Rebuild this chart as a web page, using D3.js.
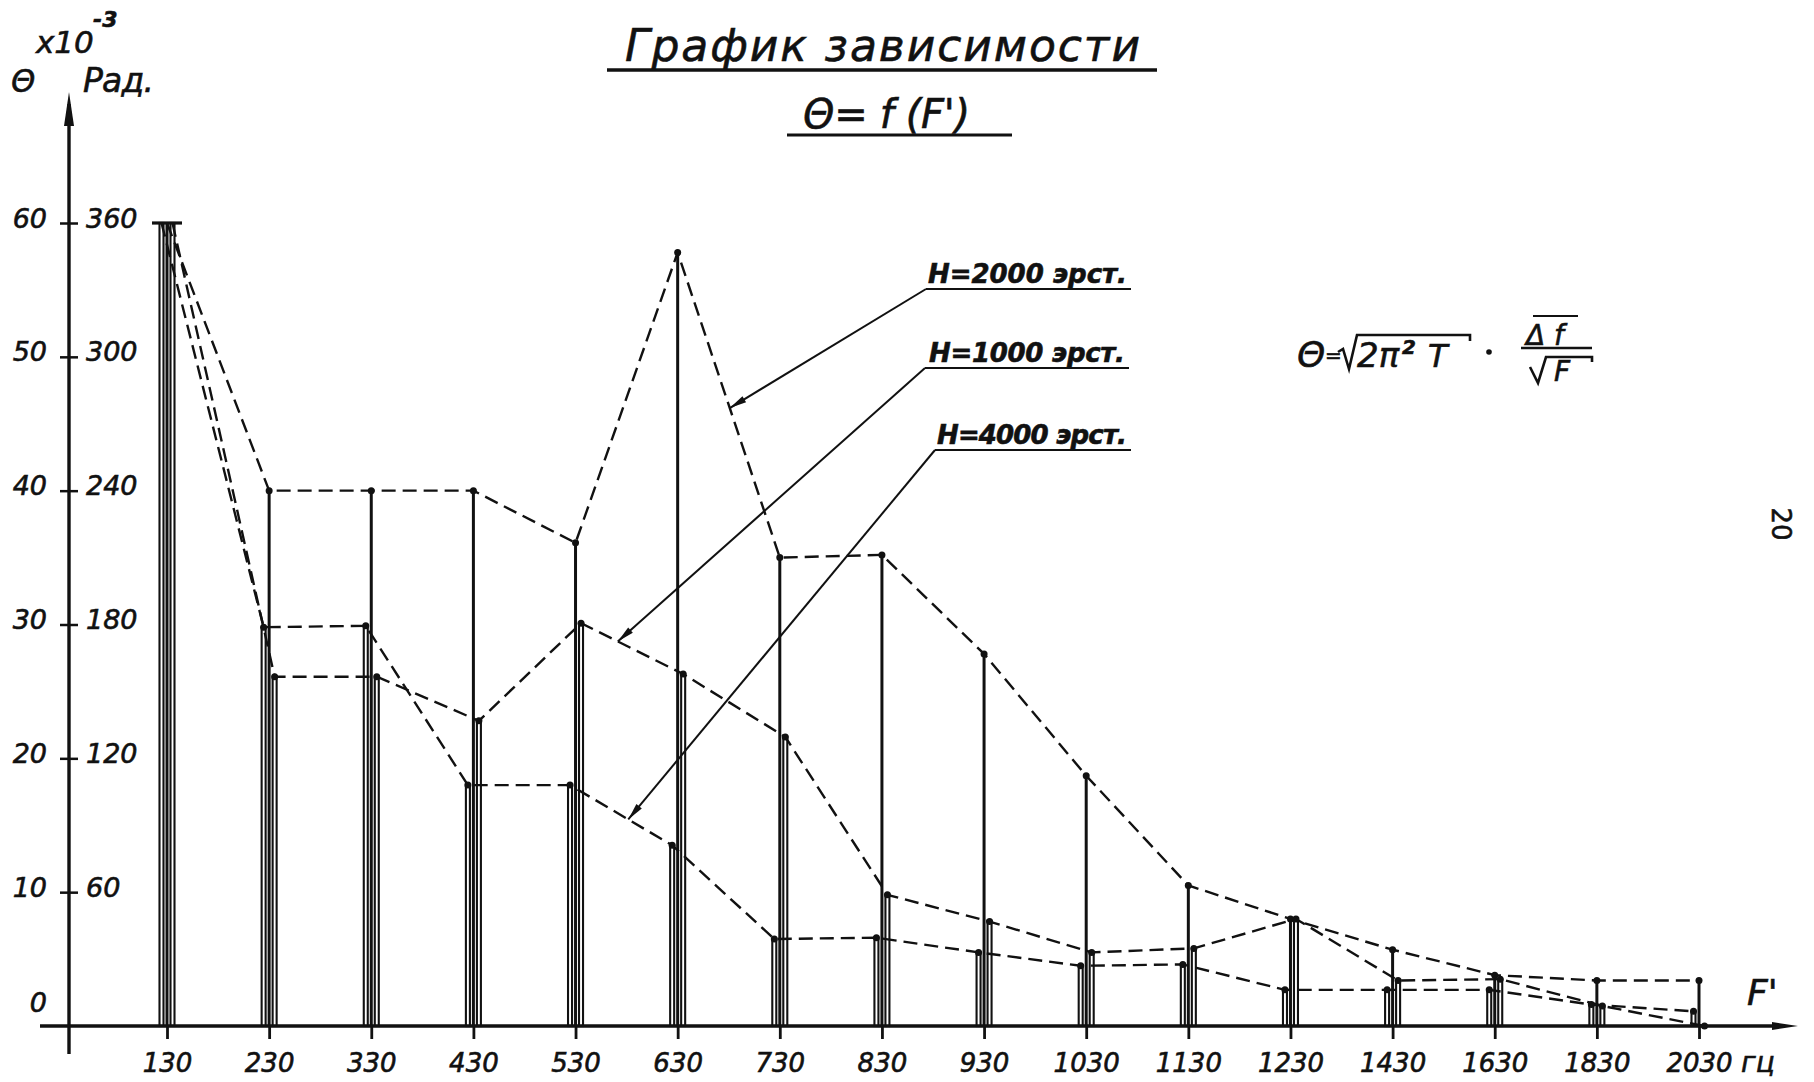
<!DOCTYPE html>
<html>
<head>
<meta charset="utf-8">
<script src="https://cdn.jsdelivr.net/npm/d3@7"></script>
<style>
  html, body { margin: 0; padding: 0; background: #fff; }
  svg text { font-family: "DejaVu Sans", sans-serif; font-style: italic; fill: #111; stroke: #111; stroke-width: 0.6px; }
</style>
</head>
<body>
<div id="chart"></div>
<script>
// F', Hz
var categories = [130, 230, 330, 430, 530, 630, 730, 830, 930, 1030, 1130, 1230, 1430, 1630, 1830, 2030];
// Θ, x10^-3 rad
var h2000 = [60, 40, 40, 40, 36.1, 57.8, 35.0, 35.2, 27.8, 18.7, 10.5, 8.0, 5.7, 3.8, 3.4, 3.4];
var h1000 = [60, 26.1, 26.1, 22.8, 30.1, 26.3, 21.6, 9.8, 7.8, 5.5, 5.8, 8.0, 3.4, 3.5, 1.5, 0];
var h4000 = [60, 29.8, 29.9, 18.0, 18.0, 13.5, 6.5, 6.6, 5.5, 4.5, 4.6, 2.7, 2.7, 2.7, 1.6, 1.1];

var yTicks = [10, 20, 30, 40, 50, 60];
var yTickLabels = ["10", "20", "30", "40", "50", "60"];
var yTickLabels2 = ["60", "120", "180", "240", "300", "360"];

var ink = "#111";
var W = 1814, H = 1082;

var svg = d3.select("#chart").append("svg")
    .attr("width", W)
    .attr("height", H);

var x = d3.scalePoint().domain(categories).range([167, 1699]);
var y = d3.scaleLinear().domain([0, 60]).range([1026, 223]);

var series = [
    {name: "H=2000 эрст.", values: h2000, dx: 0, bar: "line"},
    {name: "H=1000 эрст.", values: h1000, dx: 5.5, bar: "rect"},
    {name: "H=4000 эрст.", values: h4000, dx: -5.5, bar: "rect"}
];

////////// bars //////////
series.forEach(function (s) {
    var data = categories.map(function (c, i) { return {c: c, v: s.values[i]}; })
        .filter(function (d) { return d.v > 0; });
    var g = svg.append("g").attr("class", "bars");
    if (s.bar == "rect") {
        g.selectAll("rect").data(data).join("rect")
            .attr("x", function (d) { return x(d.c) + s.dx - 2; })
            .attr("width", 4)
            .attr("y", function (d) { return y(d.v); })
            .attr("height", function (d) { return y(0) - y(d.v); })
            .attr("fill", "#fff")
            .attr("stroke", ink)
            .attr("stroke-width", 2.1);
    } else {
        g.selectAll("line").data(data).join("line")
            .attr("x1", function (d) { return x(d.c) + s.dx; })
            .attr("x2", function (d) { return x(d.c) + s.dx; })
            .attr("y1", y(0))
            .attr("y2", function (d) { return y(d.v); })
            .attr("stroke", ink)
            .attr("stroke-width", 3);
    }
});

// cap on the first column
svg.append("line")
    .attr("x1", x(categories[0]) - 15).attr("x2", x(categories[0]) + 15)
    .attr("y1", y(h2000[0])).attr("y2", y(h2000[0]))
    .attr("stroke", ink).attr("stroke-width", 3.2);

////////// dashed curves + points //////////
series.forEach(function (s) {
    var line = d3.line()
        .x(function (d, i) { return x(categories[i]) + s.dx; })
        .y(function (d) { return y(d); });
    svg.append("path")
        .datum(s.values)
        .attr("d", line)
        .attr("fill", "none")
        .attr("stroke", ink)
        .attr("stroke-width", 2.4)
        .attr("stroke-dasharray", "14,7");
    svg.append("g").selectAll("circle")
        .data(s.values.slice(1))
        .join("circle")
        .attr("cx", function (d, i) { return x(categories[i + 1]) + s.dx; })
        .attr("cy", function (d) { return y(d); })
        .attr("r", 3.5)
        .attr("fill", ink);
});

////////// axes //////////
var xAxis = svg.append("g")
    .attr("transform", "translate(0," + y(0) + ")")
    .call(d3.axisBottom(x).tickSize(13).tickPadding(0));
xAxis.select(".domain").remove();
xAxis.selectAll(".tick line").attr("stroke", ink).attr("stroke-width", 2.8);
xAxis.selectAll(".tick text")
    .attr("y", 46).attr("dy", 0)
    .attr("fill", ink)
    .style("font-size", "26px")
    .style("font-family", "DejaVu Sans")
    .style("font-style", "italic");

var axisX = 69;
var yAxisL = svg.append("g")
    .attr("transform", "translate(" + (axisX + 9) + ",0)")
    .call(d3.axisLeft(y).tickValues(yTicks).tickSize(18).tickPadding(13)
        .tickFormat(function (d, i) { return yTickLabels[i]; }));
yAxisL.select(".domain").remove();
yAxisL.selectAll(".tick line").attr("stroke", ink).attr("stroke-width", 2.5);
yAxisL.selectAll(".tick text")
    .attr("dy", 4).attr("fill", ink)
    .style("font-size", "27px").style("font-family", "DejaVu Sans").style("font-style", "italic");

var yAxisR = svg.append("g")
    .attr("transform", "translate(" + (axisX + 9) + ",0)")
    .call(d3.axisRight(y).tickValues(yTicks).tickSize(0).tickPadding(8)
        .tickFormat(function (d, i) { return yTickLabels2[i]; }));
yAxisR.select(".domain").remove();
yAxisR.selectAll(".tick text")
    .attr("dy", 4).attr("fill", ink)
    .style("font-size", "27px").style("font-family", "DejaVu Sans").style("font-style", "italic");

svg.append("text").attr("x", 47).attr("y", y(0) - 14)
    .attr("text-anchor", "end").style("font-size", "27px").text("0");

// axis lines with arrows
svg.append("line").attr("x1", axisX).attr("x2", axisX).attr("y1", 1054).attr("y2", 104)
    .attr("stroke", ink).attr("stroke-width", 3.4);
svg.append("path").attr("d", "M" + axisX + ",92 L" + (axisX - 5) + ",126 L" + (axisX + 5) + ",126 Z")
    .attr("fill", ink);
svg.append("line").attr("x1", 40).attr("x2", 1785).attr("y1", y(0)).attr("y2", y(0))
    .attr("stroke", ink).attr("stroke-width", 3.4);
svg.append("path").attr("d", "M1798," + y(0) + " L1772," + (y(0) - 4) + " L1772," + (y(0) + 4) + " Z")
    .attr("fill", ink);

////////// axis titles //////////
svg.append("text").attr("x", 36).attr("y", 53).style("font-size", "31px").text("x10");
svg.append("text").attr("x", 93).attr("y", 27).style("font-size", "22px").style("font-weight", "bold").text("-3");
svg.append("text").attr("x", 11).attr("y", 92).style("font-size", "31px").text("Θ");
svg.append("text").attr("x", 83).attr("y", 92).style("font-size", "33px")
    .attr("textLength", 71).text("Рад.");
svg.append("text").attr("x", 1747).attr("y", 1005).style("font-size", "36px").text("F'");
svg.append("text").attr("x", 1741).attr("y", 1072).style("font-size", "28px").text("гц");

////////// title //////////
svg.append("text").attr("x", 625).attr("y", 61)
    .style("font-size", "44px").attr("textLength", 515).text("График  зависимости");
svg.append("line").attr("x1", 607).attr("x2", 1157).attr("y1", 70).attr("y2", 70)
    .attr("stroke", ink).attr("stroke-width", 3.4);
svg.append("text").attr("x", 803).attr("y", 128)
    .style("font-size", "40px").attr("textLength", 167).text("Θ= f (F')");
svg.append("line").attr("x1", 787).attr("x2", 1012).attr("y1", 135).attr("y2", 135)
    .attr("stroke", ink).attr("stroke-width", 2.8);

////////// series labels with leaders //////////
var notes = [
    {s: series[0], x: 928, y: 283, ux: [926, 1131], uy: 289, seg: 5, t: 0.51},
    {s: series[1], x: 929, y: 362, ux: [925, 1129], uy: 368, seg: 4, t: 0.36},
    {s: series[2], x: 937, y: 444, ux: [935, 1131], uy: 450, seg: 4, t: 0.57}
];
notes.forEach(function (n) {
    var s = n.s, i = n.seg;
    var x0 = x(categories[i]) + s.dx, x1 = x(categories[i + 1]) + s.dx;
    var tx = x0 + (x1 - x0) * n.t;
    var ty = y(s.values[i] + (s.values[i + 1] - s.values[i]) * n.t);
    var sx = n.ux[0], sy = n.uy;
    var len = Math.hypot(tx - sx, ty - sy), ux = (tx - sx) / len, uy = (ty - sy) / len;
    svg.append("text").attr("x", n.x).attr("y", n.y)
        .style("font-size", "26px").style("font-weight", "bold")
        .attr("textLength", n.ux[1] - n.x - 4).text(s.name);
    svg.append("line").attr("x1", n.ux[0]).attr("x2", n.ux[1]).attr("y1", sy).attr("y2", sy)
        .attr("stroke", ink).attr("stroke-width", 2);
    svg.append("line").attr("x1", sx).attr("y1", sy).attr("x2", tx).attr("y2", ty)
        .attr("stroke", ink).attr("stroke-width", 2);
    var bx = tx - ux * 17, by = ty - uy * 17;
    svg.append("path")
        .attr("d", "M" + tx + "," + ty + " L" + (bx - uy * 3.5) + "," + (by + ux * 3.5) +
            " L" + (bx + uy * 3.5) + "," + (by - ux * 3.5) + " Z")
        .attr("fill", ink);
});

////////// formula //////////
var f = svg.append("g").attr("class", "formula");
f.append("text").attr("x", 1297).attr("y", 367).style("font-size", "36px").text("Θ");
f.append("text").attr("x", 1325).attr("y", 362).style("font-size", "20px").text("=");
f.append("path").attr("d", "M1338,352 L1343,349 L1349,369 L1357,335 L1470,335 L1470,341")
    .attr("fill", "none").attr("stroke", ink).attr("stroke-width", 2.6);
f.append("text").attr("x", 1357).attr("y", 367).style("font-size", "34px").text("2π");
f.append("text").attr("x", 1402).attr("y", 354).style("font-size", "20px").style("font-weight", "bold").text("2");
f.append("text").attr("x", 1428).attr("y", 367).style("font-size", "32px").text("T");
f.append("circle").attr("cx", 1489).attr("cy", 352).attr("r", 2.8).attr("fill", ink);
f.append("text").attr("x", 1526).attr("y", 345).style("font-size", "28px").text("Δ f");
f.append("line").attr("x1", 1533).attr("x2", 1578).attr("y1", 316).attr("y2", 316)
    .attr("stroke", ink).attr("stroke-width", 2.2);
f.append("line").attr("x1", 1521).attr("x2", 1592).attr("y1", 348).attr("y2", 348)
    .attr("stroke", ink).attr("stroke-width", 2.6);
f.append("path").attr("d", "M1530,367 L1538,383 L1546,357 L1592,357 L1592,362")
    .attr("fill", "none").attr("stroke", ink).attr("stroke-width", 2.6);
f.append("text").attr("x", 1554).attr("y", 381).style("font-size", "28px").text("F");

// page number
svg.append("text")
    .attr("transform", "translate(1772,524) rotate(90)")
    .attr("text-anchor", "middle")
    .style("font-style", "normal")
    .style("font-size", "26px")
    .text("20");
</script>
</body>
</html>
